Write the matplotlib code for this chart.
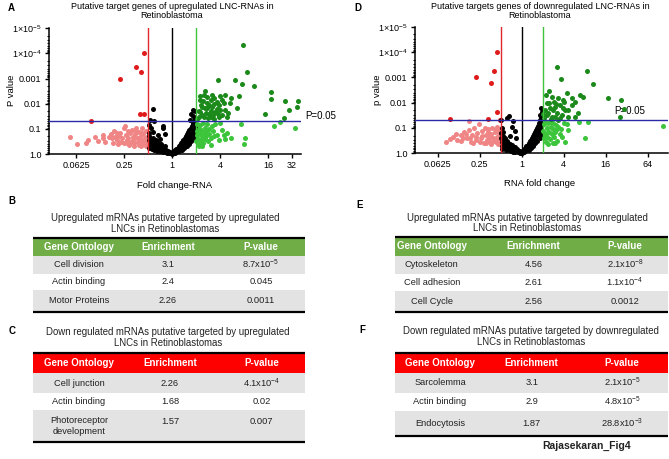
import matplotlib
matplotlib.use("Agg")
import matplotlib.pyplot as plt
from matplotlib.patches import Rectangle
from matplotlib.ticker import FixedLocator, NullFormatter, LogLocator
import numpy as np

plt.rcParams["font.family"] = ["Liberation Sans", "DejaVu Sans"]
plt.rcParams["mathtext.fontset"] = "custom"
plt.rcParams["mathtext.rm"] = "Liberation Sans"
plt.rcParams["mathtext.it"] = "Liberation Sans:italic"
plt.rcParams["mathtext.bf"] = "Liberation Sans:bold"

# ---- volcano data: (log2 fold change, -log10 p) ----
a_red = [(-3.38, 1.32), (-2.18, 3.0), (-1.52, 3.46), (-1.31, 3.27), (-1.18, 4.02),
         (-1.35, 1.61), (-1.18, 1.61)]
a_pink = [(-4.25, 0.66), (-3.97, 0.40), (-3.59, 0.42), (-3.21, 0.66), (-3.10, 0.53),
          (-2.86, 0.62), (-2.79, 0.46), (-2.65, 0.66), (-2.56, 0.78), (-2.52, 0.62),
          (-2.43, 0.91), (-2.38, 0.69), (-2.31, 0.56), (-2.27, 0.38), (-2.21, 0.73),
          (-2.17, 0.85), (-2.13, 0.49), (-2.07, 0.62), (-2.02, 1.02), (-1.99, 0.42),
          (-1.96, 1.12), (-1.93, 0.75), (-1.88, 0.56), (-1.82, 0.65), (-1.78, 0.36),
          (-1.75, 0.82), (-1.71, 0.49), (-1.68, 0.94), (-1.65, 0.69), (-1.61, 0.56),
          (-1.57, 0.42), (-1.54, 0.78), (-1.52, 1.02), (-1.47, 0.62), (-1.43, 0.49),
          (-1.40, 0.86), (-1.38, 0.36), (-1.34, 0.69), (-1.29, 0.56), (-1.27, 1.02),
          (-1.22, 0.42), (-1.20, 0.78), (-1.15, 0.62), (-1.13, 0.49), (-1.10, 0.91),
          (-1.06, 0.69), (-1.04, 0.36), (-1.02, 0.56), (-2.9, 0.75), (-2.45, 0.45),
          (-1.9, 0.45), (-1.6, 0.3), (-1.3, 0.3), (-1.1, 0.3), (-1.85, 0.9),
          (-1.5, 0.9), (-1.25, 0.85), (-2.3, 0.85), (-3.5, 0.55)]
a_black = [(-0.98, 0.85), (-0.95, 0.7), (-0.97, 0.55), (-0.93, 0.4), (-0.96, 0.25),
           (-0.9, 0.6), (-0.88, 0.45), (-0.86, 0.3), (-0.84, 0.2), (-0.82, 0.5),
           (-0.8, 0.65), (-0.78, 0.38), (-0.76, 0.25), (-0.74, 0.15), (-0.72, 0.45),
           (-0.7, 0.3), (-0.68, 0.55), (-0.66, 0.2), (-0.64, 0.38), (-0.62, 0.12),
           (-0.6, 0.28), (-0.58, 0.45), (-0.55, 0.18), (-0.52, 0.32), (-0.5, 0.1),
           (-0.48, 0.22), (-0.45, 0.38), (-0.42, 0.15), (-0.4, 0.28), (-0.38, 0.08),
           (-0.35, 0.2), (-0.32, 0.12), (-0.3, 0.3), (-0.27, 0.06), (-0.25, 0.16),
           (-0.22, 0.1), (-0.2, 0.04), (-0.17, 0.12), (-0.14, 0.05), (-0.1, 0.03),
           (-0.07, 0.08), (-0.04, 0.02), (-0.02, 0.01),
           (-0.81, 1.79), (-0.92, 1.35), (-0.74, 1.31), (-0.39, 1.11), (-0.36, 1.02),
           (-0.29, 0.78), (-0.96, 1.15), (-0.88, 1.02), (-0.78, 0.89), (-0.6, 0.75),
           (-0.5, 0.6),
           (0.02, 0.02), (0.05, 0.05), (0.08, 0.1), (0.1, 0.04), (0.13, 0.15),
           (0.15, 0.08), (0.18, 0.2), (0.2, 0.12), (0.23, 0.25), (0.25, 0.16),
           (0.28, 0.3), (0.3, 0.2), (0.32, 0.36), (0.35, 0.25), (0.37, 0.42),
           (0.4, 0.3), (0.42, 0.48), (0.45, 0.36), (0.47, 0.55), (0.5, 0.4),
           (0.52, 0.62), (0.55, 0.46), (0.57, 0.7), (0.6, 0.52), (0.62, 0.78),
           (0.65, 0.6), (0.67, 0.86), (0.7, 0.66), (0.72, 0.95), (0.75, 0.74),
           (0.77, 1.02), (0.8, 0.8), (0.82, 1.1), (0.85, 0.88), (0.87, 1.2),
           (0.9, 0.95), (0.92, 1.3), (0.95, 1.05), (0.97, 1.4), (0.98, 1.15),
           (0.6, 0.3), (0.7, 0.4), (0.8, 0.5), (0.9, 0.6), (0.95, 0.75),
           (0.85, 0.65), (0.5, 0.25), (0.4, 0.15), (0.3, 0.1), (0.73, 1.35),
           (0.8, 1.61), (0.88, 1.5), (0.95, 1.7), (0.85, 1.25), (0.89, 1.75)]
a_lgreen = [(1.04, 1.2), (1.05, 0.9), (1.08, 0.6), (1.1, 1.0), (1.12, 0.4),
            (1.15, 0.8), (1.18, 1.15), (1.2, 0.55), (1.22, 0.95), (1.25, 0.7),
            (1.28, 1.25), (1.3, 0.45), (1.32, 0.85), (1.35, 1.05), (1.38, 0.6),
            (1.39, 0.69), (1.42, 0.9), (1.45, 1.2), (1.46, 0.75), (1.5, 0.5),
            (1.52, 1.0), (1.55, 0.8), (1.6, 0.36), (1.62, 0.65), (1.65, 1.1),
            (1.7, 0.9), (1.73, 0.7), (1.18, 0.36), (1.87, 0.75), (1.98, 1.22),
            (2.08, 0.95), (2.15, 0.75), (2.46, 0.65), (2.85, 1.19), (3.05, 0.62),
            (3.01, 0.38), (4.23, 1.11), (4.48, 1.27), (5.11, 1.02), (1.8, 1.2),
            (1.95, 0.55), (2.2, 0.6), (2.3, 0.85), (1.1, 0.3), (1.25, 0.3),
            (1.0, 0.5), (1.02, 0.75)]
a_dgreen = [(2.96, 4.33), (3.12, 3.27), (1.90, 2.94), (2.61, 2.94), (2.92, 2.80),
            (3.40, 2.71), (2.19, 2.34), (2.47, 2.21), (2.78, 2.31), (1.36, 2.50),
            (4.10, 2.45), (4.10, 2.18), (4.69, 2.10), (5.25, 2.10), (4.86, 1.75),
            (5.21, 1.88), (3.89, 1.61), (4.65, 1.44), (2.71, 1.81), (2.43, 2.01),
            (2.33, 1.64), (2.01, 1.75), (2.08, 2.14), (1.87, 2.08), (1.73, 2.21),
            (1.60, 2.14), (1.46, 2.01), (1.32, 2.34), (1.25, 1.88), (1.18, 1.68),
            (1.11, 1.48), (1.32, 1.48), (1.53, 1.61), (1.67, 1.88), (1.80, 1.68),
            (1.94, 1.94), (2.15, 2.01), (2.22, 1.75), (1.46, 1.81), (1.60, 1.48),
            (1.73, 1.41), (1.94, 1.48), (2.08, 1.55), (2.29, 1.48), (1.18, 2.14),
            (1.39, 1.81), (1.67, 2.34), (2.01, 2.30), (1.05, 1.4), (1.1, 1.7),
            (1.2, 1.95), (1.25, 1.55), (1.4, 1.65), (1.5, 1.45), (1.55, 1.95),
            (1.7, 1.55), (1.85, 1.8), (1.3, 2.1), (1.45, 2.25), (1.75, 2.0),
            (1.6, 1.7), (1.15, 2.3), (1.9, 1.6)]

d_red = [(-3.41, 1.34), (-1.59, 1.34), (-2.19, 3.00), (-1.48, 2.76), (-1.32, 3.25),
         (-1.19, 3.99), (-1.19, 1.63), (-1.02, 1.3)]
d_pink = [(-3.62, 0.46), (-3.26, 0.66), (-3.14, 0.75), (-3.07, 0.53), (-2.91, 0.72),
          (-2.78, 0.59), (-2.75, 0.83), (-2.59, 0.62), (-2.51, 1.28), (-2.51, 0.92),
          (-2.43, 0.46), (-2.35, 0.72), (-2.27, 0.99), (-2.19, 0.53), (-2.11, 0.79),
          (-2.03, 1.14), (-1.95, 0.59), (-1.87, 0.88), (-1.80, 0.39), (-1.76, 1.01),
          (-1.72, 0.72), (-1.67, 0.53), (-1.61, 0.86), (-1.56, 0.62), (-1.51, 0.46),
          (-1.45, 0.75), (-1.40, 0.99), (-1.35, 0.59), (-1.29, 0.83), (-1.24, 0.46),
          (-1.19, 0.66), (-1.16, 1.05), (-1.13, 0.57), (-1.08, 0.79), (-1.03, 0.92),
          (-2.9, 0.5), (-2.65, 0.75), (-2.45, 0.6), (-2.2, 0.65), (-2.0, 0.45),
          (-1.9, 0.7), (-1.7, 0.4), (-1.5, 0.7), (-1.3, 0.5), (-1.1, 0.45),
          (-1.05, 0.6), (-1.25, 0.95), (-1.6, 0.95), (-2.3, 0.4), (-3.4, 0.55),
          (-1.15, 0.35), (-1.45, 0.35)]
d_black = [(-0.99, 0.8), (-0.97, 0.62), (-0.96, 0.45), (-0.94, 0.3), (-0.92, 0.18),
           (-0.9, 0.7), (-0.87, 0.52), (-0.85, 0.36), (-0.83, 0.22), (-0.81, 0.6),
           (-0.78, 0.44), (-0.76, 0.3), (-0.74, 0.14), (-0.72, 0.5), (-0.7, 0.36),
           (-0.67, 0.24), (-0.65, 0.42), (-0.62, 0.12), (-0.6, 0.3), (-0.57, 0.2),
           (-0.55, 0.38), (-0.52, 0.1), (-0.5, 0.26), (-0.47, 0.16), (-0.45, 0.32),
           (-0.42, 0.07), (-0.4, 0.2), (-0.37, 0.12), (-0.34, 0.24), (-0.31, 0.06),
           (-0.28, 0.15), (-0.25, 0.09), (-0.22, 0.18), (-0.19, 0.04), (-0.16, 0.1),
           (-0.13, 0.05), (-0.1, 0.08), (-0.07, 0.03), (-0.04, 0.05), (-0.02, 0.01),
           (-0.61, 1.49), (-0.97, 1.32), (-0.72, 1.38), (-0.40, 1.28), (-0.45, 1.05),
           (-0.34, 0.88), (-0.26, 0.59), (-0.88, 0.86), (-0.95, 1.0), (-0.55, 0.7),
           (0.02, 0.02), (0.04, 0.06), (0.07, 0.1), (0.1, 0.05), (0.12, 0.16),
           (0.15, 0.1), (0.18, 0.22), (0.2, 0.14), (0.22, 0.28), (0.25, 0.2),
           (0.28, 0.34), (0.3, 0.24), (0.33, 0.4), (0.35, 0.3), (0.38, 0.47),
           (0.4, 0.35), (0.43, 0.54), (0.45, 0.4), (0.48, 0.6), (0.5, 0.46),
           (0.53, 0.68), (0.55, 0.52), (0.58, 0.76), (0.6, 0.58), (0.63, 0.84),
           (0.65, 0.64), (0.68, 0.92), (0.7, 0.7), (0.73, 1.0), (0.75, 0.78),
           (0.78, 1.08), (0.8, 0.86), (0.83, 1.18), (0.85, 0.94), (0.88, 1.3),
           (0.9, 1.02), (0.93, 1.42), (0.95, 1.12), (0.97, 1.55), (0.99, 1.25),
           (0.9, 1.78), (0.95, 1.65), (0.85, 1.5), (0.55, 0.3), (0.65, 0.4),
           (0.75, 0.5), (0.85, 0.6), (0.95, 0.8), (0.45, 0.22), (0.35, 0.14),
           (0.9, 0.7)]
d_lgreen = [(1.03, 0.9), (1.05, 0.6), (1.08, 1.15), (1.11, 0.75), (1.15, 0.45),
            (1.19, 1.0), (1.22, 0.65), (1.27, 1.2), (1.3, 0.85), (1.35, 0.55),
            (1.38, 1.05), (1.43, 0.75), (1.47, 0.95), (1.51, 1.18), (1.55, 0.65),
            (1.59, 0.85), (1.62, 1.1), (1.66, 0.5), (1.7, 0.95), (1.74, 1.05),
            (1.8, 0.75), (1.9, 0.66), (2.06, 0.46), (2.22, 0.92), (2.15, 1.15),
            (2.73, 1.25), (3.14, 1.25), (3.01, 0.6), (6.74, 1.08), (1.25, 0.35),
            (1.5, 0.4), (1.1, 1.25), (1.4, 1.25), (1.85, 0.95), (2.0, 1.2),
            (1.2, 0.8), (1.6, 0.4)]
d_dgreen = [(1.70, 3.42), (3.09, 3.25), (1.87, 2.94), (3.41, 2.72), (1.30, 2.46),
            (2.17, 2.37), (2.78, 2.30), (2.93, 2.24), (4.09, 2.20), (4.73, 2.11),
            (4.87, 1.74), (4.68, 1.45), (2.38, 2.17), (1.98, 2.11), (1.74, 2.17),
            (1.55, 2.04), (1.43, 2.24), (1.19, 1.97), (1.35, 1.78), (1.59, 1.84),
            (1.82, 1.91), (2.06, 1.71), (2.38, 1.91), (2.70, 1.58), (2.22, 1.45),
            (1.90, 1.51), (1.66, 1.58), (1.43, 1.45), (1.27, 1.58), (1.11, 1.71),
            (1.74, 1.32), (2.22, 1.71), (1.98, 1.78), (2.54, 2.04), (1.14, 2.30),
            (2.03, 2.04), (1.59, 1.45), (2.54, 1.45), (1.05, 1.4), (1.2, 1.5),
            (1.5, 1.7), (1.3, 2.0), (1.65, 1.95), (1.0, 1.55), (1.4, 1.35),
            (1.8, 1.4)]

a_xticks = [0.0625, 0.25, 1, 4, 16, 32]
d_xticks = [0.0625, 0.25, 1, 4, 16, 64]
y_ticks = [1e-5, 1e-4, 1e-3, 1e-2, 1e-1, 1.0]
y_labels = ["1\u00d710$^{-5}$", "1\u00d710$^{-4}$", "0.001", "0.01", "0.1", "1.0"]

# ---- table data ----
header = ["Gene Ontology", "Enrichment", "P-value"]
table_b = [("Cell division", "3.1", "8.7x10$^{-5}$"),
           ("Actin binding", "2.4", "0.045"),
           ("Motor Proteins", "2.26", "0.0011")]
table_c = [("Cell junction", "2.26", "4.1x10$^{-4}$"),
           ("Actin binding", "1.68", "0.02"),
           ("Photoreceptor\ndevelopment", "1.57", "0.007")]
table_e = [("Cytoskeleton", "4.56", "2.1x10$^{-8}$"),
           ("Cell adhesion", "2.61", "1.1x10$^{-4}$"),
           ("Cell Cycle", "2.56", "0.0012")]
table_f = [("Sarcolemma", "3.1", "2.1x10$^{-5}$"),
           ("Actin binding", "2.9", "4.8x10$^{-5}$"),
           ("Endocytosis", "1.87", "28.8x10$^{-3}$")]

W, H = 669, 459
fig = plt.figure(figsize=(W / 100, H / 100), dpi=100)

# overlay for texts and tables, in pixel coordinates
ov = fig.add_axes([0, 0, 1, 1], zorder=-1)
ov.set_xlim(0, W)
ov.set_ylim(H, 0)
ov.axis("off")


def frac(left, top, right, bottom):
    return [left / W, 1 - bottom / H, (right - left) / W, (bottom - top) / H]


def volcano(rect, groups, xlim, xticks):
    ax = fig.add_axes(rect)
    ax.set_xscale("log", base=2)
    ax.set_yscale("log")
    for pts, col in groups:
        arr = np.array(pts)
        ax.scatter(2.0 ** arr[:, 0], 10.0 ** (-arr[:, 1]), s=13, color=col,
                   linewidths=0, zorder=2, clip_on=False)
    ax.axvline(0.5, color="#e3262b", lw=1.0, zorder=3)
    ax.axvline(1, color="black", lw=1.0, zorder=3)
    ax.axvline(2, color="#3ec43a", lw=1.0, zorder=3)
    ax.axhline(0.05, color="#2a2aa6", lw=1.0, zorder=3)
    ax.set_xlim(*xlim)
    ax.set_ylim(1.0, 1e-5)
    ax.xaxis.set_major_locator(FixedLocator(xticks))
    ax.set_xticklabels([("%g" % t) for t in xticks])
    ax.xaxis.set_minor_locator(FixedLocator([]))
    ax.yaxis.set_major_locator(FixedLocator(y_ticks))
    ax.set_yticklabels(y_labels)
    ax.yaxis.set_minor_locator(LogLocator(base=10, subs=np.arange(2, 10)))
    ax.yaxis.set_minor_formatter(NullFormatter())
    for s in ["top", "right"]:
        ax.spines[s].set_visible(False)
    for s in ["left", "bottom"]:
        ax.spines[s].set_linewidth(1.1)
    ax.tick_params(which="major", length=3, width=1, labelsize=6.5, pad=2)
    ax.tick_params(which="minor", length=1.8, width=0.8)
    ax.patch.set_alpha(0)
    return ax


pink, red, black, lgreen, dgreen = "#f08585", "#e01b1b", "black", "#3cc43a", "#1b8a1b"

volcano(frac(48.5, 28.3, 300.5, 154),
        [(a_pink, pink), (a_red, red), (a_black, black), (a_lgreen, lgreen), (a_dgreen, dgreen)],
        (2 ** -5.15, 2 ** 5.35), a_xticks)
volcano(frac(414.5, 26.7, 668, 153.3),
        [(d_pink, pink), (d_red, red), (d_black, black), (d_lgreen, lgreen), (d_dgreen, dgreen)],
        (2 ** -5.11, 2 ** 6.97), d_xticks)

# plot texts
ov.text(172, 11, "Putative target genes of upregulated LNC-RNAs in\nRetinoblastoma",
        ha="center", va="center", fontsize=6.5, linespacing=1.1)
ov.text(540, 11, "Putative targets genes of downregulated LNC-RNAs in\nRetinoblastoma",
        ha="center", va="center", fontsize=6.5, linespacing=1.1)
ov.text(12, 90, "P value", rotation=90, ha="center", va="center", fontsize=6.8)
ov.text(377, 90, "p value", rotation=90, ha="center", va="center", fontsize=6.8)
ov.text(175, 185, "Fold change-RNA", ha="center", va="center", fontsize=6.8)
ov.text(540, 183, "RNA fold change", ha="center", va="center", fontsize=6.8)
ov.text(305, 116, "P=0.05", ha="left", va="center", fontsize=7)
ov.text(614, 111, "P=0.05", ha="left", va="center", fontsize=7)

for lab, x, y in [("A", 11, 8), ("D", 358, 8), ("B", 12, 201), ("E", 360, 205),
                  ("C", 12, 331), ("F", 362, 330)]:
    ov.text(x, y, lab, ha="center", va="center", fontsize=7, fontweight="bold")
ov.text(587, 446, "Rajasekaran_Fig4", ha="center", va="center", fontsize=7.5,
        fontweight="bold", color="#222222")


def table(rows, title, title_x, title_y, x0, x1, ys, cols, head_col):
    ov.text(title_x, title_y, title, ha="center", va="center", fontsize=6.9,
            linespacing=1.1, color="#222222")
    ov.add_patch(Rectangle((x0, ys[0]), x1 - x0, ys[1] - ys[0], color=head_col, lw=0))
    for i in range(3):
        if i % 2 == 0:
            ov.add_patch(Rectangle((x0, ys[i + 1]), x1 - x0, ys[i + 2] - ys[i + 1],
                                   color="#e3e3e3", lw=0))
    ov.plot([x0, x1], [ys[0], ys[0]], color="black", lw=1.6, solid_capstyle="butt")
    ov.plot([x0, x1], [ys[-1], ys[-1]], color="black", lw=1.6, solid_capstyle="butt")
    hy = (ys[0] + ys[1]) / 2
    for cx, h in zip(cols, header):
        ov.text(cx, hy, h, ha="center", va="center", fontsize=7,
                fontweight="bold", color="white")
    for i, row in enumerate(rows):
        ry = (ys[i + 1] + ys[i + 2]) / 2
        for j, (cx, val) in enumerate(zip(cols, row)):
            if "\n" in row[0] and j > 0:
                ov.text(cx, ys[i + 1] + 11, val, ha="center", va="center",
                        fontsize=6.7, color="#222222")
            else:
                ov.text(cx, ry, val, ha="center", va="center", fontsize=6.7,
                        color="#222222", linespacing=1.25)


table(table_b, "Upregulated mRNAs putative targeted by upregulated\nLNCs in Retinoblastomas",
      165, 223.5, 33, 305, [237.5, 256, 273.5, 290, 311.5], [79, 168, 261], "#70ad47")
table(table_c, "Down regulated mRNAs putative targeted by upregulated\nLNCs in Retinoblastomas",
      168, 337.5, 33, 305, [352.7, 373.3, 392.7, 410, 441.7], [79, 170, 261.7], "#ff0000")
table(table_e, "Upregulated mRNAs putative targeted by downregulated\nLNCs in Retinoblastomas",
      527, 223, 395, 668, [236.7, 255.7, 273.7, 291, 311.5], [431.7, 533.3, 625], "#70ad47")
table(table_f, "Down regulated mRNAs putative targeted by downregulated\nLNCs in Retinoblastomas",
      531, 336.7, 395, 668, [353.3, 372.7, 392.7, 410.7, 436], [440, 531.7, 622.3], "#ff0000")

fig.savefig("out.png", dpi=100)
